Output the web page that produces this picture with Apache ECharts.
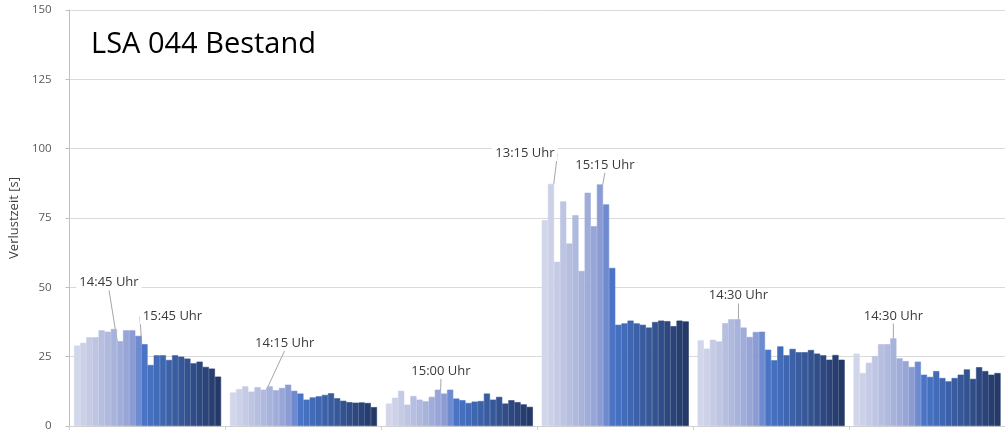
<!DOCTYPE html>
<html>
<head>
<meta charset="utf-8">
<script src="https://cdn.jsdelivr.net/npm/echarts@6/dist/echarts.min.js"></script>
<style>
  html, body { margin: 0; padding: 0; background: #fff; }
  #chart { width: 1005px; height: 433px; }
</style>
</head>
<body>
<div id="chart"></div>
<script>
// ---- data ----
const titleText = 'LSA 044 Bestand';
const yAxisName = 'Verlustzeit [s]';
const groups = ['1', '2', '3', '4', '5', '6'];
const timeSlots = ['13:00','13:15','13:30','13:45','14:00','14:15','14:30','14:45',
                   '15:00','15:15','15:30','15:45','16:00','16:15','16:30','16:45',
                   '17:00','17:15','17:30','17:45','18:00','18:15','18:30','18:45'];
const yTicks = [0, 25, 50, 75, 100, 125, 150];

const group1 = [29, 30, 32, 32, 34.5, 34, 35, 30.6, 34.5, 34.5, 32.5, 29.5, 22, 25.5, 25.5, 23.8, 25.5, 25, 24.3, 22.6, 23.2, 21.3, 20.7, 17.8];
const group2 = [12.1, 13.3, 14.3, 12.4, 14, 13.1, 14.3, 12.9, 13.7, 14.9, 12.7, 11.7, 9.5, 10.3, 10.7, 11.2, 11.8, 10, 9.1, 8.6, 8.4, 8.5, 8.3, 6.8];
const group3 = [8.1, 10.2, 12.7, 7.7, 10.8, 9.5, 8.9, 10.5, 13.1, 11.7, 13.1, 9.9, 9.3, 8.3, 8.8, 9.0, 11.7, 9.5, 10.5, 8.1, 9.3, 8.6, 7.8, 6.9];
const group4 = [74.2, 87.3, 59.2, 81, 65.8, 76, 55.9, 84.1, 72, 87.1, 79.9, 57, 36.5, 37, 38, 37, 36.5, 35.5, 37.5, 38, 37.8, 36, 38, 37.7];
const group5 = [30.9, 27.9, 31.1, 30.5, 37.1, 38.5, 38.5, 35.5, 32.1, 33.9, 34, 27.5, 23.7, 28.7, 25.5, 27.8, 26.6, 26.6, 27.4, 26.1, 25.5, 23.9, 25.6, 23.9];
const group6 = [26.1, 19.1, 22.8, 25.2, 29.5, 29.5, 31.6, 24.4, 23.4, 21.3, 23.2, 18.5, 17.7, 19.8, 17.3, 16.1, 17.3, 18.5, 20.4, 17, 21.2, 19.8, 18.5, 19.1];

// annotated bars: [group index, time slot index]
const annotatedGroup = [0, 0, 1, 2, 3, 3, 4, 5];
const annotatedSlot  = [7, 11, 5, 8, 1, 9, 6, 6];

// ---- styling (not data) ----
const labelOffsets = [[-11,-46],[28,-15],[21,-34],[3,-6],[-26,-18],[5,-7],[1,-11],[0,-10]];
const palette = ['#d2d6ea','#ccd1e8','#c5cbe5','#bec5e3','#b7bfe0','#b0b9de','#a8b3dc','#a0acd9',
                 '#97a5d7','#8b9cd4','#6f8bd0','#4a74c6','#4570c0','#426bb8','#3f66b0','#3c61a8',
                 '#395ca0','#365798','#335290','#304d88','#2d4880','#2a4378','#273e70','#243968'];
const FONT = '"Open Sans", "Noto Sans", sans-serif';

const allGroups = [group1, group2, group3, group4, group5, group6];

function annotationIndex(g, s) {
  for (let k = 0; k < annotatedGroup.length; k++) {
    if (annotatedGroup[k] === g && annotatedSlot[k] === s) return k;
  }
  return -1;
}

const series = timeSlots.map(function (slot, s) {
  return {
    name: slot,
    type: 'bar',
    barGap: '0%',
    barCategoryGap: '5.7%',
    itemStyle: { color: palette[s], borderColor: palette[s], borderWidth: 0.6 },
    label: { show: false },
    labelLine: { show: true, lineStyle: { color: '#a6a6a6', width: 1 } },
    labelLayout: function (params) {
      const k = annotationIndex(params.dataIndex, params.seriesIndex);
      if (k < 0) return {};
      return { dx: labelOffsets[k][0], dy: labelOffsets[k][1] };
    },
    data: allGroups.map(function (arr, g) {
      const k = annotationIndex(g, s);
      if (k < 0) return arr[s];
      return {
        value: arr[s],
        label: {
          show: true,
          position: 'top',
          formatter: timeSlots[s] + ' Uhr',
          fontFamily: FONT,
          fontSize: 13,
          color: '#3a3a3a',
          backgroundColor: '#ffffff',
          padding: [1, 3]
        }
      };
    })
  };
});

const chart = echarts.init(document.getElementById('chart'), null, { renderer: 'canvas' });
chart.setOption({
  animation: false,
  backgroundColor: '#ffffff',
  title: {
    text: titleText,
    left: 91,
    top: 30,
    padding: 0,
    textStyle: { fontFamily: FONT, fontSize: 29, fontWeight: 'normal', color: '#000000' }
  },
  grid: { left: 68, top: 10, width: 942, height: 416, containLabel: false },
  xAxis: {
    type: 'category',
    data: groups,
    axisLine: { show: true, lineStyle: { color: '#d0d0d0' } },
    axisTick: { show: true, length: 4, lineStyle: { color: '#d0d0d0' } },
    axisLabel: { show: false },
    splitLine: { show: false }
  },
  yAxis: {
    type: 'value',
    min: yTicks[0],
    max: yTicks[yTicks.length - 1],
    interval: yTicks[1] - yTicks[0],
    name: yAxisName,
    nameLocation: 'middle',
    nameGap: 39,
    nameTextStyle: { fontFamily: FONT, fontSize: 13, color: '#404040' },
    axisLine: { show: true, lineStyle: { color: '#bfbfbf' } },
    axisTick: { show: true, length: 4, lineStyle: { color: '#bfbfbf' } },
    axisLabel: { fontFamily: FONT, fontSize: 11.5, color: '#595959', margin: 18 },
    splitLine: { show: true, lineStyle: { color: '#dadada', width: 1 } }
  },
  series: series
});
</script>
</body>
</html>
